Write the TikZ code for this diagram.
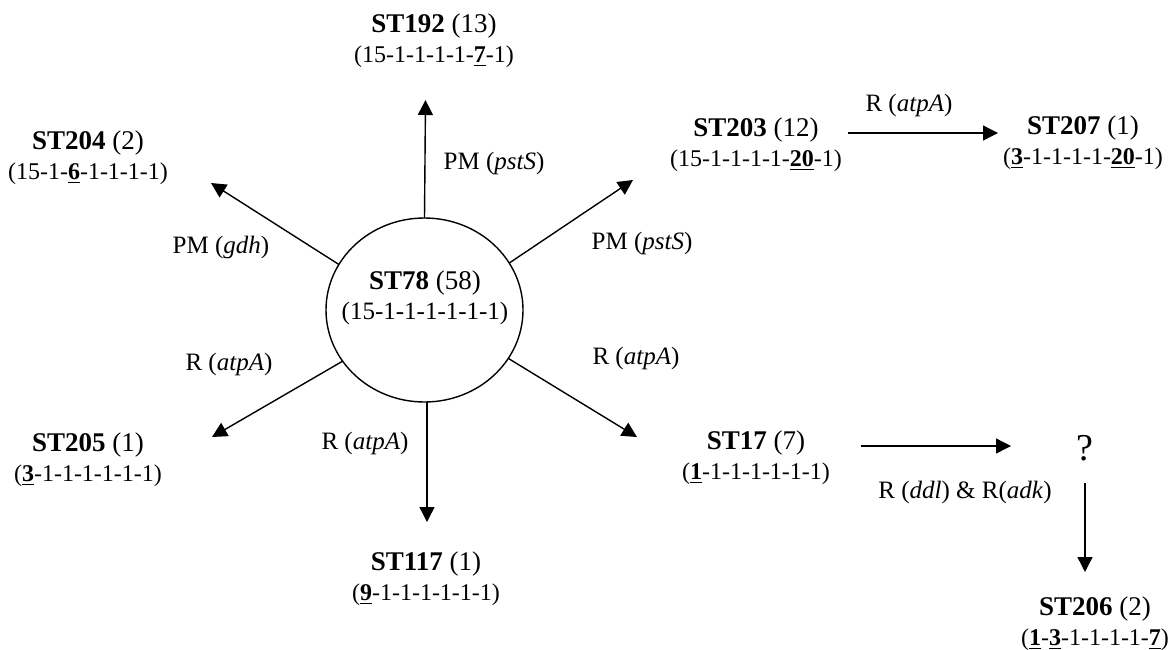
\documentclass[tikz,border=0pt]{standalone}
\usepackage{fontspec}
\setmainfont{Liberation Serif}
\usetikzlibrary{arrows.meta,shapes.geometric}
\newcommand{\ulb}[1]{\underline{\textbf{#1}}}
\newcommand{\seqf}{\fontsize{12}{15}\selectfont}
\begin{document}
\begin{tikzpicture}[x=0.5pt,y=-0.5pt,
  st/.style={align=center, inner sep=0pt, font=\fontsize{13.5}{15}\selectfont},
  lbl/.style={inner sep=0pt, font=\fontsize{12.5}{15}\selectfont},
  arr/.style={line width=0.7pt, -{Triangle[length=7.5pt,width=7.5pt]}}]
\useasboundingbox (0,0) rectangle (1168,649);

% central node
\node[draw, ellipse, line width=0.7pt, minimum width=98.5pt, minimum height=92pt,
      inner sep=0pt, outer sep=0pt] (c) at (424.5,310) {};
\node[st] (st78) at (425,297.5) {\textbf{ST78} (58)\\{\fontsize{12.5}{15}\selectfont(15-1-1-1-1-1-1)}};

% outer nodes
\node[st] (st192) at (434,41) {\textbf{ST192} (13)\\{\seqf(15-1-1-1-1-\ulb{7}-1)}};
\node[st] (st204) at (88,157.5) {\textbf{ST204} (2)\\{\seqf(15-1-\ulb{6}-1-1-1-1)}};
\node[st] (st203) at (756,145) {\textbf{ST203} (12)\\{\seqf(15-1-1-1-1-\ulb{20}-1)}};
\node[st] (st207) at (1083,143) {\textbf{ST207} (1)\\{\seqf(\ulb{3}-1-1-1-1-\ulb{20}-1)}};
\node[st] (st205) at (88,459.5) {\textbf{ST205} (1)\\{\seqf(\ulb{3}-1-1-1-1-1-1)}};
\node[st] (st117) at (426,579) {\textbf{ST117} (1)\\{\seqf(\ulb{9}-1-1-1-1-1-1)}};
\node[st] (st17) at (756,458) {\textbf{ST17} (7)\\{\seqf(\ulb{1}-1-1-1-1-1-1)}};
\node[inner sep=0pt, font=\fontsize{19}{21}\selectfont] (q) at (1085,448) {?};
\node[st] (st206) at (1095,624) {\textbf{ST206} (2)\\{\seqf(\ulb{1}-\ulb{3}-1-1-1-1-\ulb{7})}};

% arrow end points
\coordinate (t192) at (425.5,100);
\coordinate (t204) at (211,183);
\coordinate (t203) at (633,180);
\coordinate (t205) at (212,437);
\coordinate (t117) at (427,522);
\coordinate (t17) at (637,437);
\coordinate (s207) at (848,133);
\coordinate (t207) at (998,133);
\coordinate (sq) at (861,446);
\coordinate (tq) at (1011,446);
\coordinate (s206) at (1085,483);
\coordinate (t206) at (1085,572);

% connectors
\draw[arr] (c.north) -- (t192);
\draw[arr] (c.152.8) -- (t204);
\draw[arr] (c.29) -- (t203);
\draw[arr] (c.212) -- (t205);
\draw[arr] ([xshift=1.25pt]c.south) -- (t117);
\draw[arr] (c.330) -- (t17);
\draw[arr] (s207) -- (t207);
\draw[arr] (sq) -- (tq);
\draw[arr] (s206) -- (t206);

% labels
\node[lbl] (l192) at (494,163) {PM (\textit{pstS})};
\node[lbl] (l204) at (221,247) {PM (\textit{gdh})};
\node[lbl] (l203) at (642,243) {PM (\textit{pstS})};
\node[lbl] (l205) at (229,364) {R (\textit{atpA})};
\node[lbl] (l117) at (365,443) {R (\textit{atpA})};
\node[lbl] (l17) at (636,358) {R (\textit{atpA})};
\node[lbl] (l207) at (909,105) {R (\textit{atpA})};
\node[lbl] (lq) at (965,492) {R (\textit{ddl}) \& R(\textit{adk})};
\end{tikzpicture}
\end{document}
